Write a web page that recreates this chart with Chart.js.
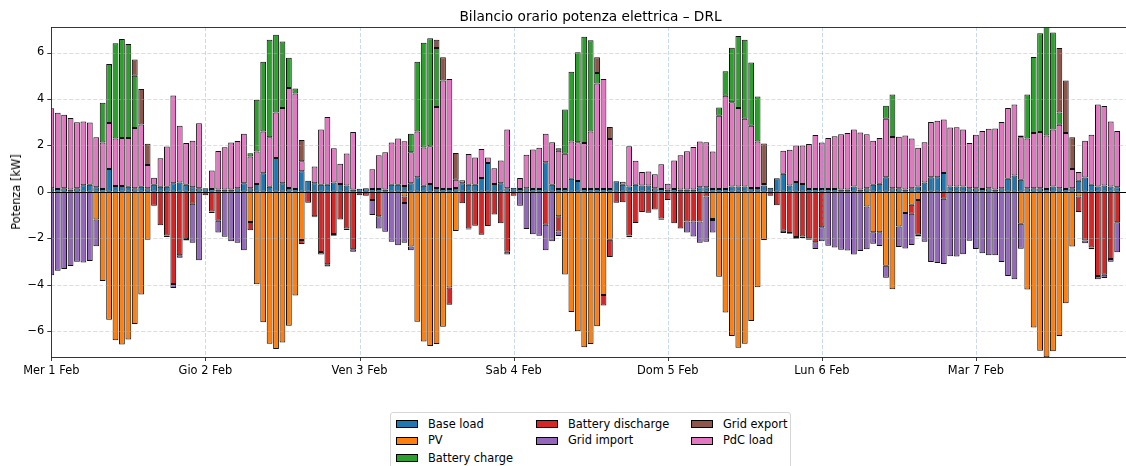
<!DOCTYPE html>
<html>
<head>
<meta charset="utf-8">
<script src="https://cdn.jsdelivr.net/npm/chart.js@4.4.1/dist/chart.umd.min.js"></script>
<style>
  html, body { margin: 0; padding: 0; background: #fff; overflow: hidden; width: 1126px; height: 466px; }
  #wrap { position: relative; width: 1140px; height: 466px; font-family: "DejaVu Sans", sans-serif; color: #000; }
  #chart { position: absolute; left: 0; top: 0; }
  #title { position: absolute; left: 0; width: 1181px; top: 6px; text-align: center; font-size: 13.7px; line-height: 20px; }
  #ylabel { position: absolute; left: 16px; top: 192px; transform: translate(-50%, -50%) rotate(-90deg); font-size: 11.4px; white-space: nowrap; }
  #legend { position: absolute; left: 390px; top: 412px; width: 401px; height: 70px; border: 1px solid #d6d6d6; border-radius: 3px; box-sizing: border-box; }
  .item { position: absolute; font-size: 11.4px; line-height: 14px; white-space: nowrap; }
  .patch { position: absolute; width: 22px; height: 8px; border: 1px solid #000; box-sizing: border-box; }
</style>
</head>
<body>
<div id="wrap">
  <canvas id="chart" width="1140" height="400"></canvas>
  <div id="title">Bilancio orario potenza elettrica – DRL</div>
  <div id="ylabel">Potenza [kW]</div>
  <div id="legend"></div>
</div>
<script>
// hourly bars, Mer 1 Feb 00:00 -> Mar 7 Feb 22:00
const hours = Array.from({ length: 167 }, (_, i) => i);
const dayTicks = [0, 24, 48, 72, 96, 120, 144];
const dayLabels = ['Mer 1 Feb', 'Gio 2 Feb', 'Ven 3 Feb', 'Sab 4 Feb', 'Dom 5 Feb', 'Lun 6 Feb', 'Mar 7 Feb'];
const yTicks = [-6, -4, -2, 0, 2, 4, 6];

// kW, one row per day
const baseLoad = [
  0.15,0.12,0.15,0.10,0.15,0.28,0.30,0.20,0.12,0.98,0.25,0.25,0.22,0.15,0.22,0.15,0.30,0.22,0.22,0.37,0.40,0.30,0.20,0.15,
  0.15,0.12,0.10,0.10,0.10,0.15,0.37,0.15,0.33,0.80,0.22,1.45,0.37,0.16,0.12,0.88,0.47,0.37,0.30,0.30,0.40,0.33,0.27,0.10,
  0.13,0.15,0.12,0.12,0.10,0.30,0.30,0.25,0.37,0.63,0.26,0.33,0.16,0.12,0.12,0.16,0.37,0.30,0.30,0.59,1.24,0.33,0.37,0.15,
  0.17,0.12,0.15,0.12,0.12,1.27,0.30,0.12,0.12,0.56,0.46,0.12,0.12,0.12,0.12,0.12,0.45,0.30,0.23,0.30,0.27,0.27,0.15,0.12,
  0.10,0.12,0.10,0.10,0.10,0.19,0.20,0.12,0.12,0.12,0.23,0.23,0.23,0.16,0.16,0.27,0.17,0.58,0.78,0.27,0.42,0.33,0.12,0.12,
  0.12,0.12,0.12,0.10,0.10,0.23,0.10,0.15,0.30,0.35,0.63,0.15,0.15,0.10,0.15,0.23,0.40,0.63,0.63,0.81,0.23,0.23,0.23,0.15,
  0.15,0.12,0.15,0.10,0.15,0.56,0.70,0.52,0.15,0.15,0.15,0.12,0.23,0.15,0.12,0.15,0.47,0.62,0.30,0.23,0.27,0.23,0.20
];
const pdcLoad = [
  3.45,3.28,3.17,3.08,2.85,2.75,2.68,2.15,2.00,1.98,2.05,2.07,2.10,2.60,2.68,1.00,0.30,1.22,1.73,3.78,2.44,1.80,2.00,2.80,
  0,0.80,1.66,1.82,2.02,2.04,2.13,1.37,1.41,1.80,2.13,1.97,3.24,4.31,4.11,0.43,0,0.72,2.38,2.92,1.48,0.88,1.38,2.48,
  0,0,0.85,1.45,1.60,1.82,2.00,1.93,1.33,1.97,1.65,1.63,3.49,4.67,4.74,0.36,0.13,1.33,1.18,1.25,0.24,0.68,0.98,2.53,
  0,0.47,1.45,1.70,1.78,1.23,1.83,1.65,1.52,1.61,1.67,1.98,2.48,4.54,4.74,2.15,0,0.13,1.73,1.04,0.58,0.60,0.60,1.07,
  0.25,1.23,1.47,1.65,1.83,1.98,1.93,1.62,3.16,4.02,3.63,3.38,2.92,2.69,2.01,0.06,0,0,0.99,1.54,1.57,1.66,1.94,2.33,
  2.00,2.20,2.27,2.38,2.43,2.45,2.45,2.33,1.90,1.97,2.52,2.21,2.22,2.33,2.14,1.67,1.73,2.38,2.43,2.30,2.54,2.55,2.45,1.95,
  2.31,2.50,2.57,2.63,2.86,3.05,3.06,1.83,2.14,2.38,2.43,2.31,2.45,2.74,2.41,0.83,0.38,1.58,2.16,3.53,3.43,2.80,2.42
];
const batteryCharge = [
  0,0,0,0,0,0,0,0,1.72,2.55,4.10,4.26,4.05,2.25,0,0,0,0,0,0,0,0,0,0,
  0,0,0,0,0,0,0,0.14,2.23,3.00,4.20,3.35,2.87,1.30,0.22,0,0,0,0,0,0,0,0,0,
  0,0,0,0,0,0,0,0,0.80,3.00,4.51,4.66,2.55,0,0,0,0,0,0,0,0,0,0,0,
  0,0,0,0,0,0,0,0.11,1.90,3.00,3.88,4.58,3.93,0.46,0,0,0,0,0,0,0,0,0,0,
  0,0,0,0,0,0,0,0,0.35,1.05,2.35,3.10,3.40,2.72,1.93,0,0,0,0,0,0,0,0,0,
  0,0,0,0,0,0,0,0,0,0,0.56,1.83,0,0,0,0,0,0,0,0,0,0,0,0,
  0,0,0,0,0,0,0,0.08,1.90,3.28,4.25,4.70,4.18,0.53,0,0,0,0,0,0,0,0,0
];
const gridExport = [
  0,0,0,0,0,0,0,0,0,0,0,0,0,0.70,1.53,0.92,0,0,0,0,0,0,0,0,
  0,0,0,0,0,0,0,0,0,0,0,0,0,0,0,0.92,0,0,0,0,0,0,0,0,
  0,0,0,0,0,0,0,0,0,0,0,0,0.35,1.01,0,1.15,0,0,0,0,0,0,0,0,
  0,0,0,0,0,0,0,0,0,0,0,0,0,0.68,0,0.52,0,0,0,0,0,0,0,0,
  0,0,0,0,0,0,0,0,0,0,0,0,0,0,0,1.75,0,0,0,0,0,0,0,0,
  0,0,0,0,0,0,0,0,0,0,0,0,0,0,0,0,0,0,0,0,0,0,0,0,
  0,0,0,0,0,0,0,0,0,0,0,0,0,2.78,2.26,1.37,0,0,0,0,0,0,0
];
const pv = [
  0,0,0,0,0,0,0,-1.20,-3.84,-5.51,-6.40,-6.58,-6.37,-5.70,-4.43,-2.07,0,0,0,0,0,0,0,0,
  0,0,0,0,0,0,0,-1.30,-3.98,-5.62,-6.55,-6.77,-6.50,-5.77,-4.47,-2.08,0,0,0,0,0,0,0,0,
  0,0,0,0,0,0,0,-0.20,-2.36,-5.60,-6.45,-6.65,-6.56,-5.82,-4.13,-1.69,0,0,0,0,0,0,0,0,
  0,0,0,0,0,0,0,-1.06,-3.56,-5.18,-6.01,-6.70,-6.56,-5.80,-4.45,-2.07,0,0,0,0,0,0,0,0,
  0,0,0,0,0,0,0,-1.17,-3.66,-5.20,-6.22,-6.72,-6.55,-5.57,-4.11,-2.08,0,0,0,0,0,0,0,0,
  0,0,0,0,0,0,0,-0.63,-1.74,-1.74,-3.19,-4.20,-1.50,-0.92,-0.56,-0.35,0,0,0,0,0,0,0,0,
  0,0,0,0,0,0,0,-1.38,-4.21,-5.85,-6.85,-7.13,-6.87,-6.22,-4.80,-2.36,-0.20,0,0,0,0,0,0
];
const batteryDischarge = [
  0,0,0,0,0,0,0,0,0,0,0,0,0,0,0,0,-0.60,-1.44,-1.88,-3.97,-2.74,-2.03,-0.52,0,
  -0.15,-0.85,-1.25,0,0,0,0,-0.36,0,0,0,0,0,0,0,-0.17,-0.47,-1.05,-2.60,-3.12,-1.82,-1.20,-1.58,-2.48,
  -0.15,-0.17,-0.35,-1.06,0,0,0,-0.28,0,0,0,0,0,0,-0.74,0,-0.50,-1.58,-1.46,-1.85,-1.47,-0.98,-1.36,-2.58,
  -0.17,0,0,0,0,-1.42,0,-0.65,0,0,0,0,0,0,-0.45,-0.74,-0.47,-0.45,-1.88,-1.35,-0.87,-0.90,-0.76,-1.15,
  -0.35,-1.36,-1.58,-1.28,-1.28,-1.28,-0.20,-0.05,0,0,0,0,0,0,0,0,-0.17,-0.58,-1.68,-1.78,-1.95,-1.93,-2.00,-2.17,
  -1.53,0,0,0,0,0,0,0,0,0,0,0,0,0,-0.39,-1.50,0,0,0,-0.30,0,0,0,0,
  0,0,0,0,0,0,0,0,0,0,0,0,0,0,0,0,-0.67,-2.10,-2.40,-3.63,-3.58,-2.90,-1.31
];
const gridImport = [
  -3.60,-3.40,-3.33,-3.20,-3.02,-3.05,-2.98,-1.15,0,0,0,0,0,0,0,0,0,0,-0.07,-0.18,-0.10,-0.07,-1.68,-2.95,
  0,-0.07,-0.51,-1.94,-2.13,-2.20,-2.52,0,0,0,0,0,0,0,0,0,0,-0.05,-0.10,-0.10,-0.08,0,-0.07,-0.10,
  0,0,-0.65,-0.52,-1.72,-2.15,-2.30,-1.72,-0.16,0,0,0,0,0,0,0,0,-0.05,0,0,0,0,0,-0.12,
  0,-0.60,-1.60,-1.83,-1.90,-1.10,-2.13,-0.20,0,0,0,0,0,0,0,0,0,0,-0.08,0,0,0,0,-0.06,
  0,0,0,-0.48,-0.65,-0.92,-1.95,-0.54,0,0,0,0,0,0,0,0,0,0,-0.10,-0.03,-0.07,-0.06,-0.07,-0.30,
  -0.60,-2.33,-2.40,-2.50,-2.53,-2.70,-2.55,-1.85,-0.50,-0.60,-0.52,0,-0.88,-1.52,-1.34,-0.08,-2.15,-3.03,-3.07,-2.81,-2.78,-2.79,-2.69,-2.11,
  -2.47,-2.65,-2.74,-2.74,-3.03,-3.63,-3.77,-1.08,0,0,0,0,0,0,0,0,0,-0.12,-0.08,-0.14,-0.14,-0.12,-1.30
];

// stacking order: positives Base -> PdC -> charge -> export, negatives PV -> discharge -> import
const series = [
  { label: 'Base load', data: baseLoad, color: '#1f77b4' },
  { label: 'PV', data: pv, color: '#ff7f0e' },
  { label: 'PdC load', data: pdcLoad, color: '#e377c2' },
  { label: 'Battery charge', data: batteryCharge, color: '#2ca02c' },
  { label: 'Battery discharge', data: batteryDischarge, color: '#d62728' },
  { label: 'Grid import', data: gridImport, color: '#9467bd' },
  { label: 'Grid export', data: gridExport, color: '#8c564b' }
];
const legendOrder = ['Base load', 'PV', 'Battery charge', 'Battery discharge', 'Grid import', 'Grid export', 'PdC load'];

const FONT = { family: 'DejaVu Sans', size: 11.4 };
const fmt = v => v < 0 ? '\u2212' + Math.abs(v) : String(v);

const framePlugin = {
  id: 'frame',
  afterDatasetsDraw(chart) {
    const { ctx, chartArea: a, scales: { x, y } } = chart;
    ctx.save();
    ctx.lineWidth = 0.8;
    // horizontal grid
    ctx.strokeStyle = 'rgba(176,176,176,0.55)';
    ctx.setLineDash([4, 2]);
    yTicks.filter(v => v !== 0).forEach(v => {
      const py = Math.round(y.getPixelForValue(v)) + 0.5;
      ctx.beginPath(); ctx.moveTo(a.left, py); ctx.lineTo(a.right, py); ctx.stroke();
    });
    // day separators
    ctx.strokeStyle = 'rgba(100,150,200,0.35)';
    ctx.lineWidth = 1;
    dayTicks.slice(1).forEach(v => {
      const px = Math.round(x.getPixelForValue(v)) + 0.5;
      ctx.beginPath(); ctx.moveTo(px, a.top); ctx.lineTo(px, a.bottom); ctx.stroke();
    });
    ctx.setLineDash([]);
    // zero line
    ctx.strokeStyle = '#000';
    ctx.lineWidth = 1.1;
    const y0 = Math.round(y.getPixelForValue(0)) + 0.5;
    ctx.beginPath(); ctx.moveTo(a.left, y0); ctx.lineTo(a.right, y0); ctx.stroke();
    // spines and tick marks
    ctx.lineWidth = 0.9;
    ctx.strokeStyle = '#222';
    ctx.strokeRect(Math.round(a.left) + 0.5, Math.round(a.top) + 0.5, a.right - a.left, Math.round(a.bottom) - Math.round(a.top));
    ctx.beginPath();
    dayTicks.forEach(v => {
      const px = Math.round(x.getPixelForValue(v)) + 0.5;
      ctx.moveTo(px, a.bottom); ctx.lineTo(px, a.bottom + 4);
    });
    yTicks.forEach(v => {
      const py = Math.round(y.getPixelForValue(v)) + 0.5;
      ctx.moveTo(a.left - 4, py); ctx.lineTo(a.left, py);
    });
    ctx.stroke();
    ctx.restore();
  }
};

const chart = new Chart(document.getElementById('chart'), {
  type: 'bar',
  data: {
    labels: hours,
    datasets: series.map(s => ({
      label: s.label,
      // empty hours are skipped so no zero-height outline is drawn
      data: s.data.map(v => v === 0 ? null : v),
      backgroundColor: s.color,
      borderColor: '#111',
      borderWidth: 1,
      borderSkipped: false,
      barPercentage: 0.9,
      categoryPercentage: 1,
      clip: 0
    }))
  },
  options: {
    responsive: false,
    animation: false,
    devicePixelRatio: 1,
    layout: { padding: { top: 27, right: 10, left: 0, bottom: 0 } },
    plugins: { legend: { display: false }, tooltip: { enabled: false }, title: { display: false } },
    scales: {
      x: {
        type: 'linear', stacked: true, min: 0, max: 168, offset: false,
        grid: { display: false, drawTicks: false }, border: { display: false },
        afterBuildTicks: s => { s.ticks = dayTicks.map(v => ({ value: v })); },
        afterFit: s => { s.height = 43; },
        ticks: { callback: v => dayLabels[dayTicks.indexOf(v)], font: FONT, color: '#000', padding: 7, maxRotation: 0, autoSkip: false }
      },
      y: {
        stacked: true, min: -7.12, max: 7.10,
        grid: { display: false, drawTicks: false }, border: { display: false },
        afterBuildTicks: s => { s.ticks = yTicks.map(v => ({ value: v })); },
        afterFit: s => { s.width = 51.3; },
        ticks: { callback: v => fmt(v), font: FONT, color: '#000', padding: 7 }
      }
    }
  },
  plugins: [framePlugin]
});

// legend, 3 columns filled top-down like the original
const legend = document.getElementById('legend');
const colX = [5, 145, 300];
const rowY = [11, 27.5, 45];
legendOrder.forEach((name, i) => {
  const s = series.find(d => d.label === name);
  const col = i < 3 ? 0 : (i < 5 ? 1 : 2);
  const row = i < 3 ? i : (i < 5 ? i - 3 : i - 5);
  const patch = document.createElement('div');
  patch.className = 'patch';
  patch.style.left = colX[col] + 'px';
  patch.style.top = (rowY[row] - 4) + 'px';
  patch.style.background = s.color;
  legend.appendChild(patch);
  const txt = document.createElement('div');
  txt.className = 'item';
  txt.style.left = (colX[col] + 32) + 'px';
  txt.style.top = (rowY[row] - 7.5) + 'px';
  txt.textContent = name;
  legend.appendChild(txt);
});
</script>
</body>
</html>
